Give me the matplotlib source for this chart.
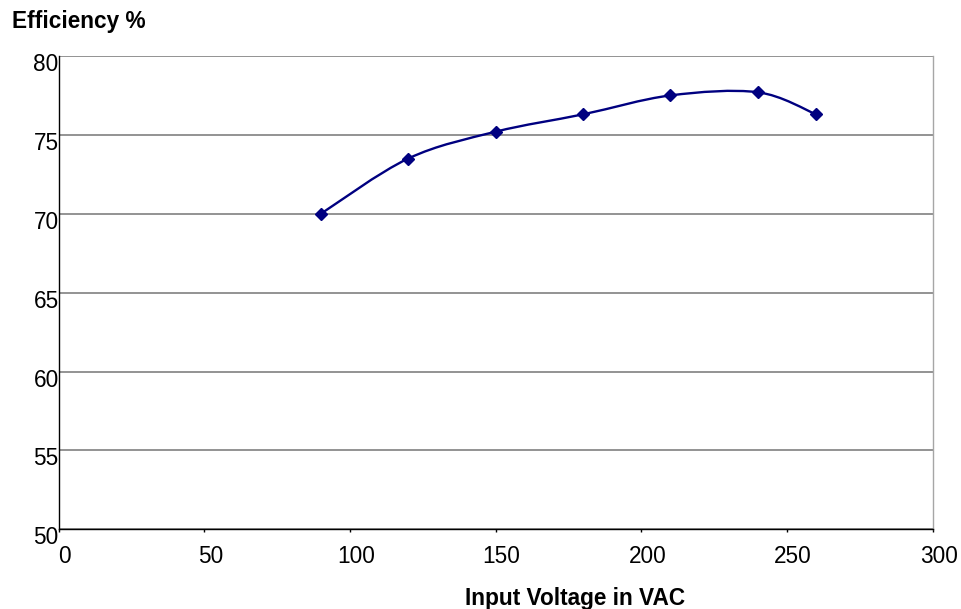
import matplotlib
matplotlib.use("Agg")
import matplotlib.pyplot as plt
import matplotlib.transforms as mtransforms
from matplotlib.path import Path
from matplotlib.patches import PathPatch

# Data
voltage = [90, 120, 150, 180, 210, 240, 260]
efficiency = [70.0, 73.5, 75.2, 76.3, 77.5, 77.7, 76.3]
x_ticks = [0, 50, 100, 150, 200, 250, 300]
y_ticks = [50, 55, 60, 65, 70, 75, 80]

plt.rcParams['font.family'] = ['Liberation Sans', 'DejaVu Sans']
line_color = '#000080'


def smooth_path(xs, ys):
    # Excel-style smoothed line: Catmull-Rom converted to cubic Bezier segments
    pts = list(zip(xs, ys))
    n = len(pts)
    verts = [pts[0]]
    codes = [Path.MOVETO]
    for i in range(n - 1):
        p0 = pts[i - 1] if i > 0 else pts[i]
        p1 = pts[i]
        p2 = pts[i + 1]
        p3 = pts[i + 2] if i + 2 < n else pts[i + 1]
        c1 = (p1[0] + (p2[0] - p0[0]) / 6, p1[1] + (p2[1] - p0[1]) / 6)
        c2 = (p2[0] - (p3[0] - p1[0]) / 6, p2[1] - (p3[1] - p1[1]) / 6)
        verts += [c1, c2, p2]
        codes += [Path.CURVE4] * 3
    return Path(verts, codes)


fig = plt.figure(figsize=(9.62, 6.09), dpi=100)
ax = fig.add_axes([0.0610, 0.1309, 0.9085, 0.7772])

# Smoothed line plus diamond markers
ax.add_patch(PathPatch(smooth_path(voltage, efficiency), fill=False,
                       edgecolor=line_color, linewidth=1.7, zorder=3))
ax.plot(voltage, efficiency, linestyle='none', marker='D', markersize=6,
        color=line_color, zorder=4)

ax.set_xlim(0, 300)
ax.set_ylim(50, 80)
ax.set_xticks(x_ticks)
ax.set_yticks(y_ticks)
ax.yaxis.grid(True, color='#808080', linewidth=1.2)
ax.set_axisbelow(True)

# Spines: black left/bottom, light grey plot border on the right
ax.spines['top'].set_visible(False)
ax.spines['right'].set_color('#a6a6a6')
ax.spines['left'].set_color('black')
ax.spines['bottom'].set_color('black')
for s in ['left', 'bottom', 'right']:
    ax.spines[s].set_linewidth(1.0)

ax.tick_params(axis='y', length=0, pad=0, labelsize=16.3)
ax.tick_params(axis='x', direction='out', length=2.5, width=1, pad=8.5,
               labelsize=16.3, color='black')

# Excel-like label offsets
for lbl in ax.get_yticklabels():
    lbl.set_transform(lbl.get_transform() +
                      mtransforms.ScaledTranslation(0, -6 / 100, fig.dpi_scale_trans))
for lbl in ax.get_xticklabels():
    lbl.set_transform(lbl.get_transform() +
                      mtransforms.ScaledTranslation(6 / 100, 0, fig.dpi_scale_trans))

fig.text(12 / 962, 1 - 28 / 609, 'Efficiency %', fontsize=16.3,
         fontweight='bold', ha='left', va='baseline')
fig.text(575.5 / 962, 4.5 / 609, 'Input Voltage in VAC', fontsize=16.3,
         fontweight='bold', ha='center', va='baseline')

fig.savefig('out.png', dpi=100)
